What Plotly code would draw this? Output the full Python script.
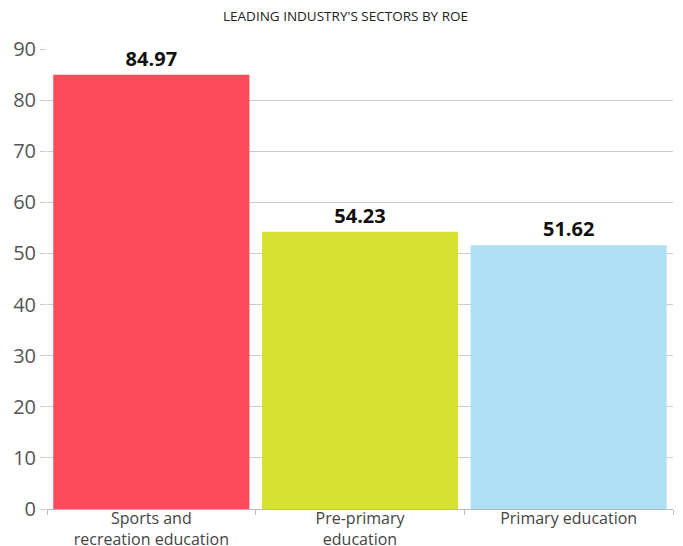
import plotly.graph_objects as go

categories = ["Sports and<br>recreation education", "Pre-primary<br>education", "Primary education"]
values = [84.97, 54.23, 51.62]
colors = ["#fd4b5b", "#d8e032", "#ade1f3"]
y_ticks = [0, 10, 20, 30, 40, 50, 60, 70, 80, 90]

fig = go.Figure(go.Bar(
    x=categories, y=values, marker=dict(color=colors, line=dict(width=0)),
    text=[f"{v:.2f}" for v in values], textposition="outside",
    textfont=dict(family="Open Sans", size=20, color="#111111", weight="bold"),
    cliponaxis=False,
))
fig.update_layout(
    width=675, height=538,
    margin=dict(l=39, r=10, t=41, b=37),
    paper_bgcolor="white", plot_bgcolor="white",
    bargap=0.06,
    title=dict(text="LEADING INDUSTRY'S SECTORS BY ROE", x=0.5, xanchor="center", y=0.984, yanchor="middle",
               font=dict(family="Open Sans", size=13.5, color="#222222")),
    font=dict(family="Open Sans"),
    showlegend=False,
)
fig.update_xaxes(showline=True, linecolor="#bbbbbb", linewidth=1, ticks="outside", tickson="boundaries",
                 ticklen=5, tickcolor="#bbbbbb", tickfont=dict(size=16, color="#444444"),
                 ticklabelstandoff=-5, automargin=False)
fig.update_yaxes(range=[0, 90], tickvals=y_ticks, showgrid=True, gridcolor="#cccccc", gridwidth=1,
                 ticks="outside", ticklen=6, tickcolor="#cccccc", zeroline=False, showline=False,
                 tickfont=dict(size=20, color="#555555"), automargin=False)
fig.write_html("out.html")
